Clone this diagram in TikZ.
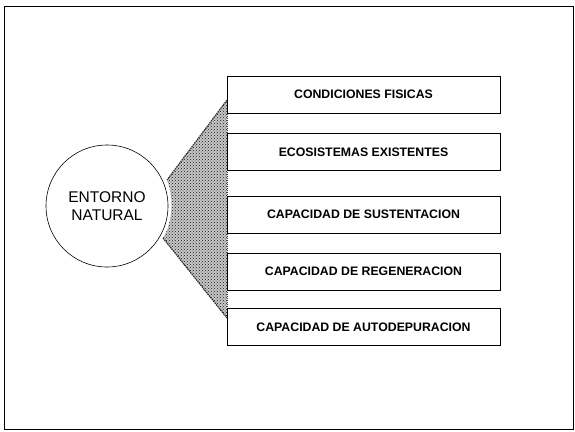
\documentclass[tikz,border=0pt]{standalone}
\usepackage{fontspec}
\setmainfont{Liberation Sans}
\usetikzlibrary{patterns}
\begin{document}
\begin{tikzpicture}[x=1pt,y=-1pt,
  itembox/.style={draw=black, line width=0.8pt, fill=white, minimum width=273pt, minimum height=37pt, inner sep=0pt, font=\bfseries\fontsize{12.3}{14}\selectfont},
  hub/.style={circle, draw=black, line width=0.6pt, minimum size=122pt, inner sep=0pt, align=center, font=\fontsize{15.5}{18}\selectfont},
  fanedge/.style={line width=1.2pt, black!80, dash pattern=on 1.5pt off 0.8pt}]
\useasboundingbox (0,0) rectangle (575,431);
\draw[line width=1pt] (4,6) rectangle (573,429);
\node[hub] (c) at (107,206) {ENTORNO\\NATURAL};
\coordinate (t1) at (227,100);
\coordinate (t2) at (167,180);
\coordinate (t3) at (163,238);
\coordinate (t4) at (227,318);
\fill[black!22] (t1) -- (t2) .. controls (174,198) and (173,222) .. (t3) -- (t4) -- cycle;
\fill[pattern=crosshatch dots, pattern color=black!90] (t1) -- (t2) .. controls (174,198) and (173,222) .. (t3) -- (t4) -- cycle;
\draw[fanedge] (t1) -- (t2);
\draw[fanedge] (t3) -- (t4);
\draw[line width=0.7pt, black!75, dash pattern=on 1pt off 1pt] (t1) -- (t4);
\node[itembox] (b1) at (363.5,94.5) {CONDICIONES FISICAS};
\node[itembox] (b2) at (363.5,152) {ECOSISTEMAS EXISTENTES};
\node[itembox] (b3) at (363.5,214.5) {CAPACIDAD DE SUSTENTACION};
\node[itembox] (b4) at (363.5,271.5) {CAPACIDAD DE REGENERACION};
\node[itembox] (b5) at (363.5,327) {CAPACIDAD DE AUTODEPURACION};
\end{tikzpicture}
\end{document}
